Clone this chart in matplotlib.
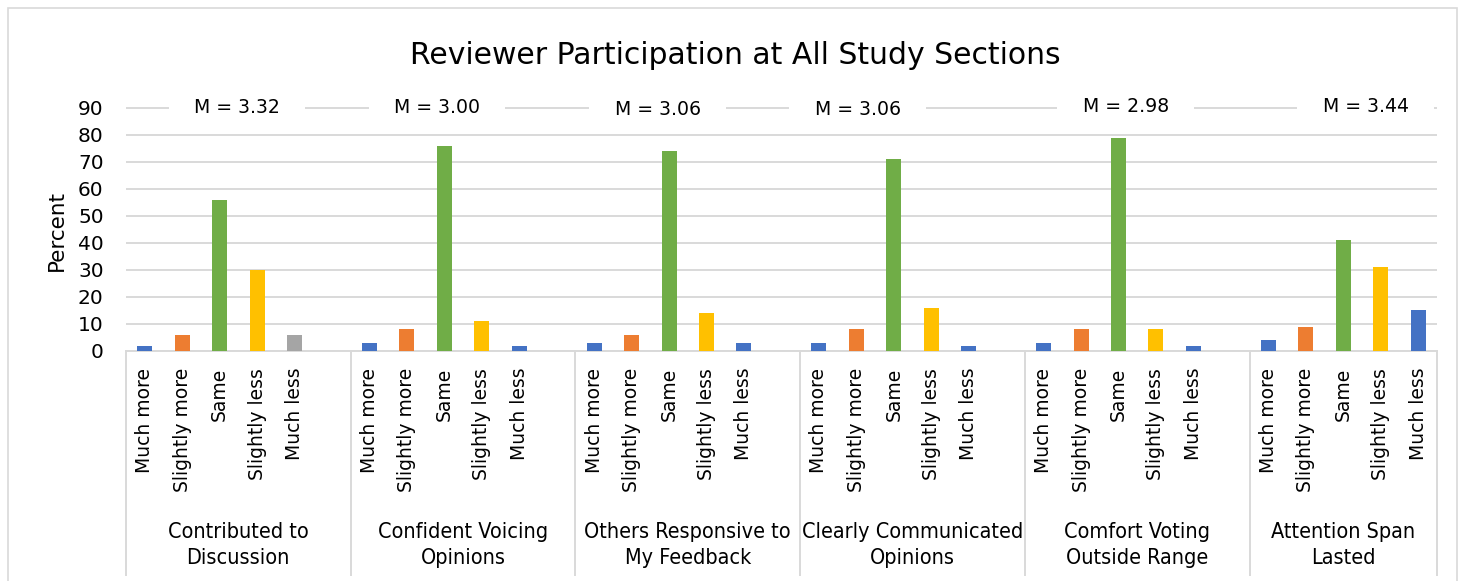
import numpy as np
import matplotlib
matplotlib.use("Agg")
import matplotlib.pyplot as plt
from matplotlib.patches import Rectangle

# data
groups = ["Contributed to\nDiscussion", "Confident Voicing\nOpinions",
          "Others Responsive to\nMy Feedback", "Clearly Communicated\nOpinions",
          "Comfort Voting\nOutside Range", "Attention Span\nLasted"]
responses = ["Much more", "Slightly more", "Same", "Slightly less", "Much less"]
percent = [
    [2, 6, 56, 30, 6],
    [3, 8, 76, 11, 2],
    [3, 6, 74, 14, 3],
    [3, 8, 71, 16, 2],
    [3, 8, 79, 8, 2],
    [4, 9, 41, 31, 15],
]
means = ["3.32", "3.00", "3.06", "3.06", "2.98", "3.44"]

# label placement (x in bar slots, y in percent)
mean_pos = [(2.47, 90), (7.8, 90), (13.7, 89.3), (19.04, 89.5), (26.19, 90.6), (32.6, 90.6)]

blue, orange, green, gold, gray = "#4472C4", "#ED7D31", "#70AD47", "#FFC000", "#A5A5A5"
colors = [[blue, orange, green, gold, gray]] + [[blue, orange, green, gold, blue]] * 5
grid_c = "#D9D9D9"

fig = plt.figure(figsize=(14.73, 5.81), dpi=100)
ax = fig.add_axes([0.0855, 0.3959, 0.890, 0.4229])

slot = len(responses) + 1  # one empty slot after each group
xs, vals, cols, labels = [], [], [], []
for g, row in enumerate(percent):
    for i, v in enumerate(row):
        xs.append(g * slot + i)
        vals.append(v)
        cols.append(colors[g][i])
        labels.append(responses[i])

ax.bar(xs, vals, width=0.4, color=cols, zorder=3)

ax.set_xlim(-0.5, len(groups) * slot - 1.5)
ax.set_ylim(0, 91)
ax.set_yticks(np.arange(0, 91, 10))
ax.tick_params(axis="y", length=0, pad=16, labelsize=14.5)
ax.set_xticks(xs)
ax.set_xticklabels(labels, rotation=90, fontsize=13.5)
ax.tick_params(axis="x", length=0, pad=12)
ax.yaxis.grid(True, color=grid_c, lw=1.4, zorder=0)
for s in ["top", "right", "left"]:
    ax.spines[s].set_visible(False)
ax.spines["bottom"].set_color(grid_c)
ax.spines["bottom"].set_linewidth(1.4)

# group separators and group labels
xt = ax.get_xaxis_transform()
bounds = [-0.5 + g * slot for g in range(len(groups))] + [len(groups) * slot - 1.5]
for b in bounds:
    ax.plot([b, b], [0, -0.91], transform=xt, color=grid_c, lw=1.4, clip_on=False)
for g, name in enumerate(groups):
    c = (bounds[g] + bounds[g + 1]) / 2
    ax.text(c, -0.79, name, transform=xt, ha="center", va="center",
            fontsize=15.5, fontstretch="condensed", linespacing=1.35)

for m, (mx, my) in zip(means, mean_pos):
    ax.text(mx, my, "    M = " + m + "    ", ha="center", va="center", fontsize=13.6,
            bbox=dict(facecolor="white", edgecolor="none", pad=1), zorder=4)

fig.text(0.4993, 0.905, "Reviewer Participation at All Study Sections",
         ha="center", va="center", fontsize=21.5)
fig.text(0.0387, 0.604, "Percent", rotation=90, ha="center", va="center", fontsize=15.5)

fig.patches.append(Rectangle((8 / 1473, -0.05), 1457 / 1473 - 8 / 1473, 1.05 - 8 / 581,
                             transform=fig.transFigure, fill=False,
                             edgecolor=grid_c, lw=1.2))

fig.savefig("out.png", dpi=100)
